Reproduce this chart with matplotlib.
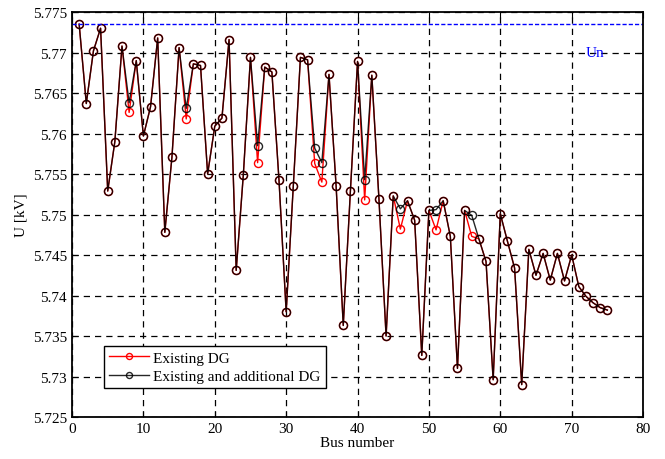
import numpy as np
import matplotlib
matplotlib.use('Agg')
import matplotlib.pyplot as plt

# Bus voltages (kV)
bus = np.arange(1, 76)

u_both = [
    5.7735, 5.7637, 5.7702, 5.7730, 5.7529, 5.7590, 5.7708, 5.7638, 5.7690, 5.7597,
    5.7633, 5.7718, 5.7478, 5.7571, 5.7706, 5.7631, 5.7686, 5.7684, 5.7550, 5.7609,
    5.7619, 5.7716, 5.7431, 5.7549, 5.7694, 5.7585, 5.7682, 5.7676, 5.7542, 5.7380,
    5.7535, 5.7694, 5.7691, 5.7582, 5.7564, 5.7673, 5.7535, 5.7363, 5.7529, 5.7689,
    5.7543, 5.7672, 5.7519, 5.7350, 5.7523, 5.7507, 5.7517, 5.7493, 5.7326, 5.7505,
    5.7506, 5.7517, 5.7473, 5.7310, 5.7505, 5.7499, 5.7470, 5.7442, 5.7296, 5.7501,
    5.7467, 5.7434, 5.7290, 5.7457, 5.7425, 5.7452, 5.7419, 5.7452, 5.7418, 5.7450,
    5.7411, 5.7399, 5.7391, 5.7385, 5.7382,
]

# buses where the existing-DG-only case differs
u_existing = list(u_both)
diff = {8: 5.7626, 16: 5.7618, 26: 5.7564, 34: 5.7563, 35: 5.7540,
        41: 5.7518, 46: 5.7482, 51: 5.7481, 56: 5.7473}
for b, v in diff.items():
    u_existing[b - 1] = v

u_nominal = 10 / np.sqrt(3)

plt.rcParams['font.family'] = ['Liberation Serif', 'DejaVu Serif']

fig = plt.figure(figsize=(6.65, 4.6), dpi=100)
ax = fig.add_axes([0.1083, 0.0913, 0.8587, 0.8804])

ax.plot(bus, u_existing, color='red', marker='o', markersize=5.8,
        markerfacecolor='none', linewidth=1, label='Existing DG')
ax.plot(bus, u_both, color='black', marker='o', markersize=5.8,
        markerfacecolor='none', linewidth=1, alpha=0.85,
        label='Existing and additional DG')
ax.axhline(u_nominal, color='blue', linestyle='--', linewidth=1, dashes=(3, 1.5))
ax.text(72, 5.770, 'Un', color='blue', fontsize=11, va='center', ha='left')

ax.set_xlim(0, 80)
ax.set_ylim(5.725, 5.775)
ax.set_xticks(np.arange(0, 81, 10))
ax.set_yticks(np.arange(5.725, 5.7751, 0.005))
ax.set_yticklabels(['5.725', '5.73', '5.735', '5.74', '5.745', '5.75',
                    '5.755', '5.76', '5.765', '5.77', '5.775'])
ax.tick_params(direction='in', top=True, right=True, labelsize=11, length=4)
ax.grid(True, color='black', linestyle='--', linewidth=0.9, dashes=(5, 4))
for s in ax.spines.values():
    s.set_linewidth(1.3)

ax.set_xlabel('Bus number', fontsize=11, labelpad=1)
ax.set_ylabel('U [kV]', fontsize=11, labelpad=4)

leg = ax.legend(loc='lower left', bbox_to_anchor=(0.042, 0.052), fontsize=11,
                fancybox=False, framealpha=1, edgecolor='black',
                handlelength=2.6, handletextpad=0.3, borderpad=0.35,
                labelspacing=0.3, markerscale=0.75)
leg.get_frame().set_linewidth(1)

fig.savefig('out.png', dpi=100)
